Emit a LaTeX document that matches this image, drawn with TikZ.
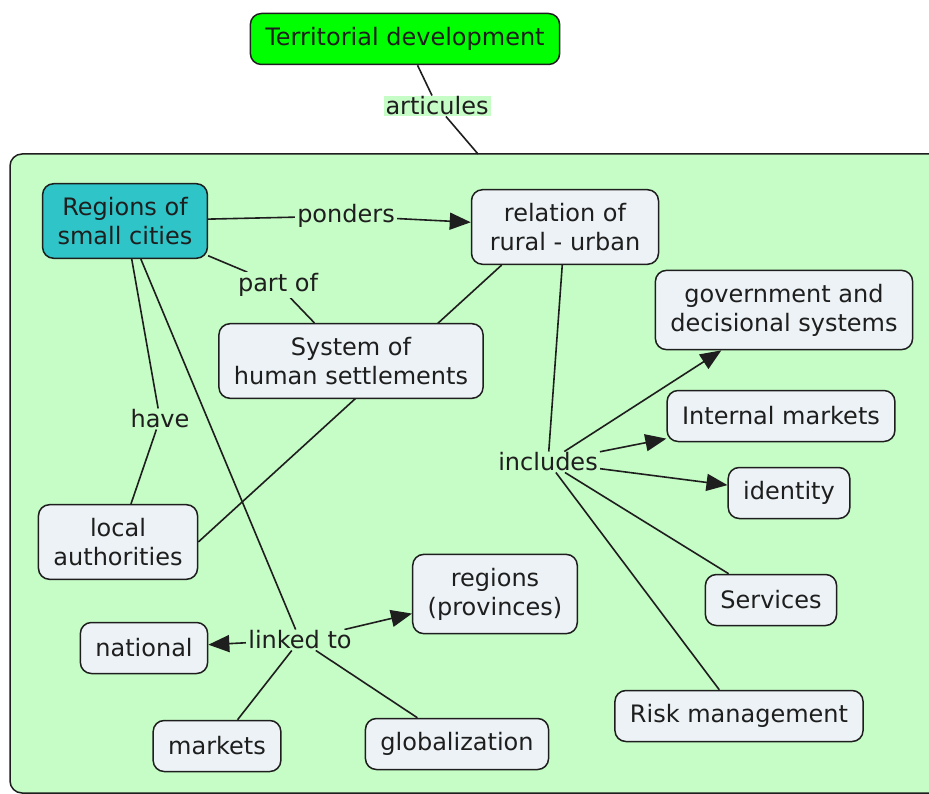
\documentclass[tikz,border=0pt]{standalone}
\usepackage{fontspec}
\setmainfont{DejaVu Sans}
\usetikzlibrary{arrows.meta}
\definecolor{groupfill}{RGB}{198,252,198}
\definecolor{topfill}{RGB}{0,255,0}
\definecolor{keyfill}{RGB}{46,196,200}
\definecolor{conceptfill}{RGB}{236,242,245}
\definecolor{edgecol}{RGB}{30,30,30}
\pgfdeclarelayer{back}
\pgfdeclarelayer{links}
\pgfsetlayers{back,links,main}
\tikzset{concept/.style={
        draw=edgecol, line width=1.5pt, rounded corners=11pt,
        fill=conceptfill, align=center,
        inner xsep=15pt, inner ysep=13.5pt, minimum height=51pt
    },
    linkphrase/.style={fill=groupfill, inner xsep=2pt, inner ysep=1pt},
    linkarrow/.style={-{Triangle[length=21pt,width=17pt]}}
}

\begin{document}
\begin{tikzpicture}[x=1pt,y=-1pt,font=\fontsize{24}{29}\selectfont,
    color=edgecol]
      \useasboundingbox (0,0) rectangle (929,794);
      % group
      \begin{pgfonlayer}{back}
      \draw[draw=edgecol, line width=1.5pt, fill=groupfill, rounded corners=12pt]
        (10,154) rectangle (980,793);
      \end{pgfonlayer}
      \coordinate (grouptop) at (478,154);
      % nodes
      \node[concept, fill=topfill] (td) at (405,39) {Territorial development};
      \node[concept, fill=keyfill] (regions) at (125,221) {Regions of\\small cities};
      \node[concept, minimum width=187pt] (relation) at (565,227) {relation of\\rural - urban};
      \node[concept] (government) at (784,310) {government and\\decisional systems};
      \node[concept] (internal) at (781,416) {Internal markets};
      \node[concept] (identity) at (789,493) {identity};
      \node[concept] (services) at (771,600) {Services};
      \node[concept] (risk) at (739,716) {Risk management};
      \node[concept] (system) at (351,361) {System of\\human settlements};
      \node[concept] (local) at (118,542) {local\\authorities};
      \node[concept] (provinces) at (495,594) {regions\\(provinces)};
      \node[concept] (national) at (144,648) {national};
      \node[concept] (markets) at (217,746) {markets};
      \node[concept] (globalization) at (457,744) {globalization};
      % linking phrases
      \node[linkphrase] (articules) at (437,106) {articules};
      \node[linkphrase] (ponders) at (346,216) {ponders};
      \node[linkphrase] (partof) at (278,285) {part of};
      \node[linkphrase] (have) at (160,419) {have};
      \node[linkphrase] (includes) at (548,462) {includes};
      \node[linkphrase] (linkedto) at (300,640) {linked to};
      %edges
      \begin{pgfonlayer}{links}
      \begin{scope}[edgecol, line width=1.6pt]
      \draw (td) -- (articules);
      \draw (articules) -- (grouptop);
      \draw (regions) -- (ponders);
      \draw[linkarrow] (ponders) -- (relation);
      \draw (regions) -- (partof);
      \draw (partof) -- (system);
      \draw (regions) -- (have);
      \draw (have) -- (local);
      \draw (regions) -- (linkedto);
      \draw[linkarrow] (linkedto) -- (national);
      \draw[linkarrow] (linkedto) -- (provinces);
      \draw (linkedto) -- (markets);
      \draw (linkedto) -- (globalization);
      \draw (relation.211) -- (local.east);
      \draw (relation) -- (includes);
      \draw[linkarrow] (includes) -- (government);
      \draw[linkarrow] (includes) -- (internal);
      \draw[linkarrow] (includes) -- (identity);
      \draw (includes) -- (services);
      \draw (includes) -- (risk);
      \end{scope}
      \end{pgfonlayer}
    \end{tikzpicture}
\end{document}
